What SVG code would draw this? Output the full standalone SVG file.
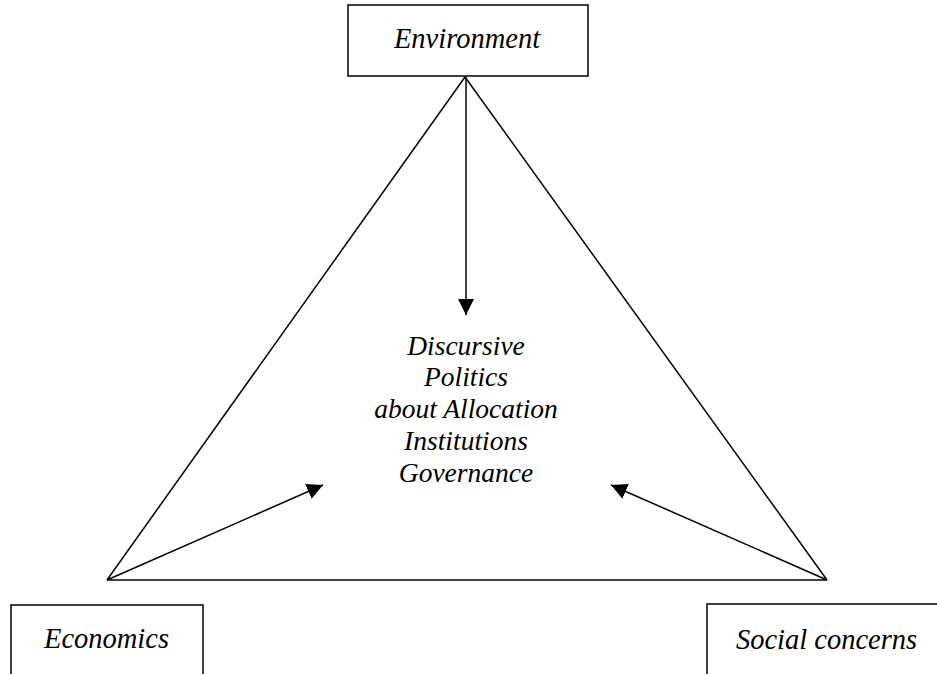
<svg xmlns="http://www.w3.org/2000/svg" width="937" height="674" viewBox="0 0 937 674">
  <defs>
    <marker id="arrow" viewBox="0 0 16 16" refX="16" refY="8" markerWidth="16" markerHeight="16" markerUnits="userSpaceOnUse" orient="auto">
      <path d="M0,0 L16,8 L0,16 Z" fill="#000"/>
    </marker>
  </defs>
  <style>
    .box { fill: #fff; stroke: #000; stroke-width: 1.5; }
    .lbl { font-family: "Liberation Serif", "Times New Roman", serif; font-style: italic; font-size: 28.5px; fill: #000; text-anchor: middle; }
    .ctr { font-family: "Liberation Serif", "Times New Roman", serif; font-style: italic; font-size: 27.5px; fill: #000; text-anchor: middle; }
    .edge { stroke: #000; stroke-width: 1.5; fill: none; }
    .arr { stroke: #000; stroke-width: 1.5; fill: none; marker-end: url(#arrow); }
  </style>
  <rect width="937" height="674" fill="#fff"/>
  <g id="connectors">
    <line class="edge" x1="465" y1="77" x2="107" y2="580"/>
    <line class="edge" x1="465" y1="77" x2="827" y2="580"/>
    <line class="edge" x1="107" y1="580" x2="827" y2="580"/>
    <line class="arr" x1="466" y1="77" x2="466" y2="315"/>
    <line class="arr" x1="107" y1="580" x2="323" y2="485"/>
    <line class="arr" x1="827" y1="580" x2="611" y2="485"/>
  </g>
  <g id="environment">
    <rect class="box" x="348" y="5" width="240" height="71"/>
    <text class="lbl" x="467" y="48">Environment</text>
  </g>
  <g id="economics">
    <rect class="box" x="11" y="605" width="192" height="90"/>
    <text class="lbl" x="106.5" y="648">Economics</text>
  </g>
  <g id="social">
    <rect class="box" x="707" y="604" width="250" height="90"/>
    <text class="lbl" x="826.5" y="649">Social concerns</text>
  </g>
  <g id="center">
    <text class="ctr" x="466" y="355">Discursive</text>
    <text class="ctr" x="466" y="386">Politics</text>
    <text class="ctr" x="466" y="418">about Allocation</text>
    <text class="ctr" x="466" y="450">Institutions</text>
    <text class="ctr" x="466" y="482">Governance</text>
  </g>
</svg>
